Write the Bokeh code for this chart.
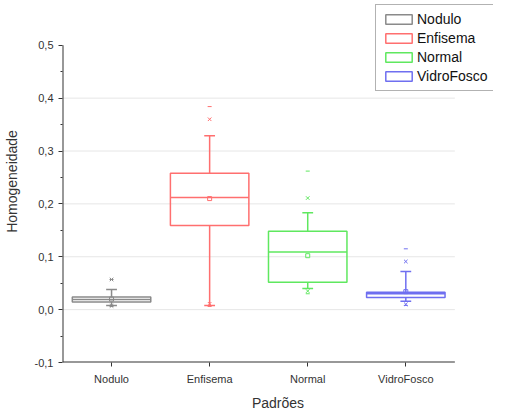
from bokeh.plotting import figure
from bokeh.models import FixedTicker, Range1d, Legend, LegendItem
from bokeh.embed import file_html
from bokeh.resources import INLINE

categories = ["Nodulo", "Enfisema", "Normal", "VidroFosco"]
colors = ["#8a8a8a", "#ff6f6f", "#5fe85f", "#6f6ff0"]
q1 = [0.0145, 0.159, 0.052, 0.023]
median = [0.019, 0.212, 0.109, 0.030]
q3 = [0.024, 0.258, 0.148, 0.033]
whisk_low = [0.008, 0.008, 0.040, 0.016]
whisk_high = [0.038, 0.329, 0.183, 0.072]
mean = [0.020, 0.210, 0.102, 0.034]
p1 = [0.007, 0.011, 0.035, 0.010]
p99 = [0.057, 0.360, 0.211, 0.091]
minv = [0.006, 0.006, 0.030, 0.008]
maxv = [0.057, 0.384, 0.262, 0.115]
y_ticks = [-0.1, 0.0, 0.1, 0.2, 0.3, 0.4, 0.5]
y_tick_labels = ["-0,1", "0,0", "0,1", "0,2", "0,3", "0,4", "0,5"]
y_minor = [-0.05, 0.05, 0.15, 0.25, 0.35, 0.45]

x = [i + 1 for i in range(len(categories))]
half = 0.4
cap = 0.055
x_lo, x_hi = 0.5, len(categories) + 0.5
y_lo, y_hi = y_ticks[0], y_ticks[-1]

W, H = 493, 413
BL, BB = 58, 49
frame_w = W - BL
frame_h = H - BB
px_x = 99.0
px_y = (frame_h - 45) / (y_hi - y_lo)

p = figure(width=W, height=H, output_backend="svg", toolbar_location=None,
           x_range=Range1d(x_lo, x_lo + frame_w / px_x),
           y_range=Range1d(y_lo, y_lo + frame_h / px_y),
           min_border_left=BL, min_border_right=0, min_border_top=0, min_border_bottom=BB)
p.outline_line_color = None
p.xgrid.grid_line_color = None
p.ygrid.grid_line_color = None

# grid lines and axis lines limited to the data span
inner = [t for t in y_ticks if y_lo < t < y_hi]
p.segment(x0=[x_lo] * len(inner), x1=[x_hi] * len(inner), y0=inner, y1=inner,
          line_color="#e6e6e6", line_width=1)
p.segment(x0=[x_lo, x_lo], x1=[x_lo, x_hi], y0=[y_lo, y_lo], y1=[y_hi, y_lo],
          line_color="#333333", line_width=2)

p.xaxis.ticker = FixedTicker(ticks=x)
p.xaxis.major_label_overrides = {xi: c for xi, c in zip(x, categories)}
p.yaxis.ticker = FixedTicker(ticks=y_ticks, minor_ticks=y_minor)
p.yaxis.major_label_overrides = {t: l for t, l in zip(y_ticks, y_tick_labels)}

for ax in [p.xaxis[0], p.yaxis[0]]:
    ax.axis_line_color = None
    ax.major_tick_line_color = "#333333"
    ax.minor_tick_line_color = "#333333"
    ax.major_tick_out = 4
    ax.major_tick_in = 0
    ax.minor_tick_out = 2
    ax.minor_tick_in = 0
    ax.major_label_text_font = "Liberation Sans"
    ax.major_label_text_font_size = "11px"
    ax.major_label_text_color = "#333333"
    ax.axis_label_text_font = "Liberation Sans"
    ax.axis_label_text_font_size = "14px"
    ax.axis_label_text_font_style = "normal"
    ax.axis_label_text_color = "#333333"
p.xaxis.minor_tick_line_color = None
p.xaxis.axis_label = "Padrões"
p.yaxis.axis_label = "Homogeneidade"
p.xaxis.major_label_standoff = 6
p.xaxis.axis_label_standoff = 7
p.yaxis.major_label_standoff = 5
p.yaxis.axis_label_standoff = 12

items = []
for i, c in enumerate(categories):
    col = colors[i]
    xi = x[i]
    box = p.quad(left=[xi - half], right=[xi + half], bottom=[q1[i]], top=[q3[i]],
                 fill_color=None, line_color=col, line_width=1.5)
    p.segment(x0=[xi - half], x1=[xi + half], y0=[median[i]], y1=[median[i]], line_color=col, line_width=1.5)
    p.segment(x0=[xi, xi], x1=[xi, xi], y0=[q3[i], q1[i]], y1=[whisk_high[i], whisk_low[i]],
              line_color=col, line_width=1.5)
    p.segment(x0=[xi - cap, xi - cap], x1=[xi + cap, xi + cap], y0=[whisk_high[i], whisk_low[i]],
              y1=[whisk_high[i], whisk_low[i]], line_color=col, line_width=1.5)
    p.scatter(x=[xi], y=[mean[i]], marker="square", size=4, fill_color=None, line_color=col, line_width=1)
    p.scatter(x=[xi, xi], y=[p1[i], p99[i]], marker="x", size=5, line_color=col, line_width=1)
    p.scatter(x=[xi, xi], y=[minv[i], maxv[i]], marker="dash", size=4, line_color=col, line_width=1)
    items.append(LegendItem(label=c, renderers=[box]))

legend = Legend(items=items, location=(313, frame_h - 93), orientation="vertical",
                border_line_color="#666666", border_line_width=1, background_fill_color="white",
                background_fill_alpha=1, label_text_font="Liberation Sans", label_text_font_size="14px",
                label_text_color="#111111", glyph_width=33, glyph_height=12, label_standoff=2,
                padding=6, spacing=3, label_height=16, label_width=76, margin=0)
p.add_layout(legend, "center")

open("out.html", "w").write(file_html(p, INLINE))
